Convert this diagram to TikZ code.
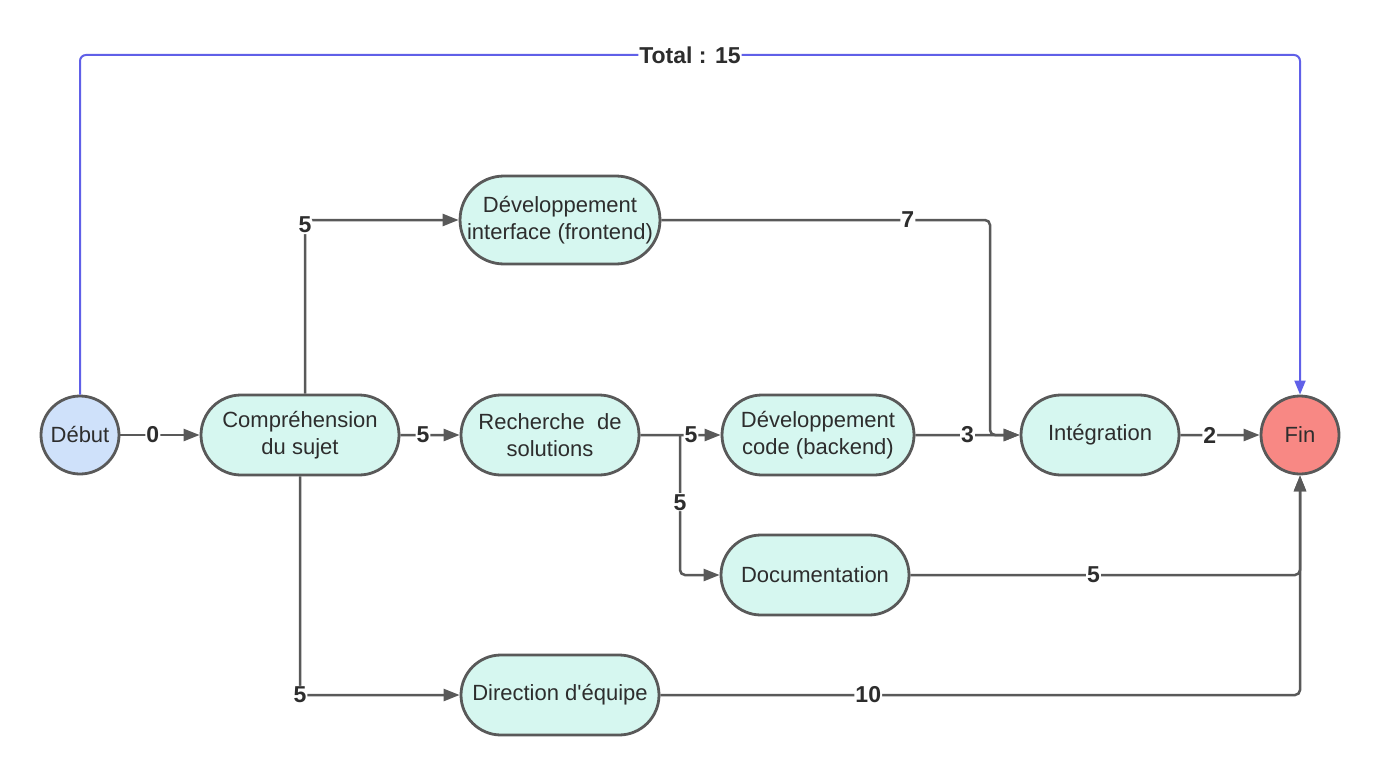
\documentclass[tikz,border=0pt]{standalone}
\usepackage{fontspec}
\setmainfont{Liberation Sans}
\usetikzlibrary{arrows.meta,shapes.misc}
\definecolor{edgec}{RGB}{89,89,89}
\definecolor{mint}{RGB}{214,247,240}
\definecolor{bluec}{RGB}{207,225,250}
\definecolor{redc}{RGB}{248,136,132}
\definecolor{totalc}{RGB}{96,96,232}
\definecolor{txt}{RGB}{45,45,45}
\begin{document}
\begin{tikzpicture}[x=1pt,y=-1pt,
 task/.style={rounded rectangle, draw=edgec, line width=2.8pt, fill=mint, text=txt,
   font=\fontsize{22}{27}\selectfont, align=center, inner sep=0pt, minimum height=80pt},
 endpt/.style={circle, draw=edgec, line width=2.8pt, minimum size=78pt, inner sep=0pt,
   text=txt, font=\fontsize{22}{26}\selectfont},
 conn/.style={draw=edgec, line width=2.5pt, -{Triangle[length=16pt,width=12pt]}, rounded corners=5pt},
 total/.style={draw=totalc, line width=2pt, -{Triangle[length=14pt,width=11pt]}, rounded corners=6pt},
 lbl/.style={fill=white, inner sep=1pt, text=txt, font=\bfseries\fontsize{23}{27}\selectfont},
]
\useasboundingbox (0,0) rectangle (1380,773);
\fill[white] (0,0) rectangle (1380,773);

\node[endpt, fill=bluec] (debut) at (80,435) {Début};
\node[endpt, fill=redc] (fin) at (1300,435) {Fin};
\node[task, minimum width=198pt] (comp) at (300,435) {Compréhension\\du sujet};
\node[task, minimum width=178pt] (rech) at (550,435) {Recherche~ de\\solutions};
\node[task, minimum width=198pt, minimum height=88pt] (iface) at (560,220) {Développement\\interface (frontend)};
\node[task, minimum width=192pt] (dev) at (818,435) {Développement\\code (backend)};
\node[task, minimum width=158pt] (integ) at (1100,435) {Intégration};
\node[task, minimum width=188pt] (doc) at (815,575) {Documentation};
\node[task, minimum width=198pt] (dir) at (560,695) {Direction d\textquotesingle équipe};

\coordinate (br) at (680,435);

\draw[conn] (debut) -- node[lbl,pos=0.41]{0} (comp);
\draw[conn] (comp) -- node[lbl,pos=0.38]{5} (rech);
\draw[conn] ([xshift=5pt]comp.north) |- node[lbl,yshift=-5pt]{5} (iface.west);
\draw[conn] (comp.south) |- node[lbl]{5} (dir.west);
\draw[conn] (rech) -- node[lbl,pos=0.63]{5} (dev);
\draw[conn] (br) |- node[lbl,pos=0.24]{5} (doc.west);
\draw[conn] (iface.east) -- node[lbl,pos=0.75]{7} (990,220) -- (990,435) -- (integ.west);
\draw[conn] (dev) -- node[lbl,pos=0.5]{3} (integ);
\draw[conn] (integ) -- node[lbl,pos=0.37]{2} (fin);
\draw[conn] (doc.east) -- node[lbl,pos=0.47]{5} (doc.east -| fin.south) -- (fin.south);
\draw[conn] (dir.east) -- node[lbl,pos=0.325]{10} (dir.east -| fin.south) -- (fin.south);
\draw[total] (debut.north) -- (80,55) -- node[lbl,pos=0.5]{Total : 15} (1300,55) -- (fin.north);
\end{tikzpicture}
\end{document}
